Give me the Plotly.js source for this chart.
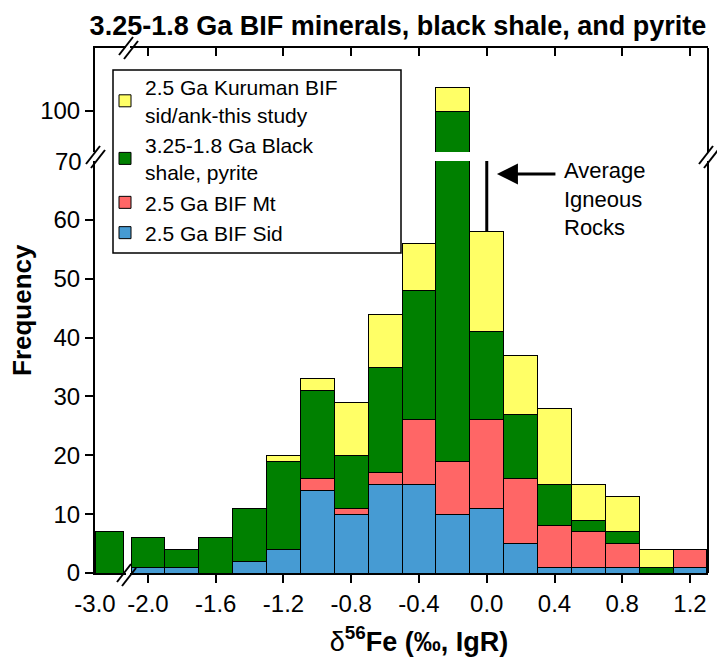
<!DOCTYPE html>
<html>
<head>
<meta charset="utf-8">
<script src="https://cdn.plot.ly/plotly-3.0.1.min.js"></script>
<style>html,body{margin:0;padding:0;background:#fff;}</style>
</head>
<body>
<div id="chart" style="width:717px;height:657px;"></div>
<script>
// ---- data (bin centres in per mil, counts per bin) ----
const bins = [-3.0, -2.0, -1.8, -1.6, -1.4, -1.2, -1.0, -0.8, -0.6, -0.4, -0.2, 0.0, 0.2, 0.4, 0.6, 0.8, 1.0, 1.2];
const bifSid   = [0, 1, 1, 0, 2, 4, 14, 10, 15, 15, 10, 11, 5, 1, 1, 1, 0, 1];
const bifMt    = [0, 0, 0, 0, 0, 0, 2, 1, 2, 11, 9, 15, 11, 7, 6, 4, 0, 3];
const shalePyr = [7, 5, 3, 6, 9, 15, 15, 9, 18, 22, 81, 15, 11, 7, 2, 2, 1, 0];
const kuruman  = [0, 0, 0, 0, 0, 1, 2, 9, 9, 8, 4, 17, 10, 13, 6, 6, 3, 0];
const seriesNames = ["2.5 Ga BIF Sid", "2.5 Ga BIF Mt", "3.25-1.8 Ga Black<br>shale, pyrite", "2.5 Ga Kuruman BIF<br>sid/ank-this study"];
const seriesColors = ["#469bd3", "#ff6666", "#008000", "#ffff66"];
const xTickVals = [-2.0, -1.6, -1.2, -0.8, -0.4, 0.0, 0.4, 0.8, 1.2];
const xTickText = ["-2.0", "-1.6", "-1.2", "-0.8", "-0.4", "0.0", "0.4", "0.8", "1.2"];
const yTickVals = [0, 10, 20, 30, 40, 50, 60];
const yUpperTickVals = [100];
const averageIgneous = 0.0;

const FONT = "Liberation Sans, Arial, Helvetica, sans-serif";
const seriesValues = [bifSid, bifMt, shalePyr, kuruman];
const subplots = [["x", "y"], ["x2", "y"], ["x3", "y2"], ["x4", "y2"]];

const traces = [];
subplots.forEach(function (sp, si) {
  seriesValues.forEach(function (vals, k) {
    traces.push({
      type: "bar",
      x: bins,
      y: vals.map(function (v) { return v === 0 ? null : v; }),
      width: 0.2,
      xaxis: sp[0], yaxis: sp[1],
      name: seriesNames[k],
      showlegend: si === 0,
      marker: { color: seriesColors[k], line: { color: "#000", width: 1 } },
      hoverinfo: "x+y+name"
    });
  });
});

// pixel helpers for decorations (plot area: left 95, right 708, top 48, bottom 573)
const L = 95, R = 708, T = 48, B = 573;
function px(x) { return (x - L) / (R - L); }
function py(y) { return (B - y) / (B - T); }

const axLine = { showline: true, linecolor: "#000", linewidth: 2, showgrid: false, zeroline: false };
const mainXDom = [px(130), 1];
const leftXDom = [0, px(126)];
const mainXRange = [-2.106, 1.306];
const leftXRange = [-3.1, -2.88];
const lowDom = [0, py(161)];
const upDom = [py(152), 1];

function brk(cx, cy) {
  return [
    { type: "line", xref: "paper", yref: "paper", x0: px(cx - 9), y0: py(cy + 7), x1: px(cx + 5), y1: py(cy - 11), line: { color: "#000", width: 2 } },
    { type: "line", xref: "paper", yref: "paper", x0: px(cx - 4), y0: py(cy + 11), x1: px(cx + 10), y1: py(cy - 7), line: { color: "#000", width: 2 } }
  ];
}

const shapes = [
  { type: "line", xref: "paper", yref: "paper", x0: 1, x1: 1, y0: lowDom[0], y1: lowDom[1], line: { color: "#000", width: 2 } },
  { type: "line", xref: "paper", yref: "paper", x0: 1, x1: 1, y0: upDom[0], y1: upDom[1], line: { color: "#000", width: 2 } },
  { type: "line", xref: "x", yref: "y", x0: averageIgneous, x1: averageIgneous, y0: 58, y1: 70, line: { color: "#000", width: 3 } },
  // legend frame
  { type: "rect", xref: "paper", yref: "paper", x0: px(113), x1: px(401), y0: py(253), y1: py(70), layer: "above",
    fillcolor: "#fff", line: { color: "#000", width: 1.5 } }
].concat(brk(L, 157), brk(R, 157), brk(126, 575), brk(128, 48));

const layout = {
  width: 717, height: 657,
  margin: { l: L, r: 717 - R, t: T, b: 657 - B, pad: 0 },
  paper_bgcolor: "#fff", plot_bgcolor: "#fff",
  font: { family: FONT, size: 24, color: "#000" },
  barmode: "stack", bargap: 0,
  title: { text: "<b>3.25-1.8 Ga BIF minerals, black shale, and pyrite</b>", font: { family: FONT, size: 27, color: "#000" },
           x: (398 - L) / (R - L), xref: "paper", xanchor: "center", y: 1 - 26 / 657, yref: "container", yanchor: "middle" },
  xaxis: Object.assign({ domain: mainXDom, range: mainXRange, anchor: "y", tickmode: "array", tickvals: xTickVals, ticktext: xTickText,
           ticks: "outside", ticklen: 8, tickwidth: 2, tickcolor: "#000", tickfont: { size: 24 },
           title: { text: "δ<sup><b>56</b></sup><b>Fe (‰, IgR)</b>", font: { size: 27 }, standoff: 16 } }, axLine),
  xaxis2: Object.assign({ domain: leftXDom, range: leftXRange, anchor: "y", tickmode: "array", tickvals: [-3.1], ticktext: ["-3.0"],
           ticks: "outside", ticklen: 8, tickwidth: 2, tickcolor: "rgba(0,0,0,0)", tickfont: { size: 24 } }, axLine),
  xaxis3: Object.assign({ domain: mainXDom, range: mainXRange, anchor: "y2", side: "top", tickmode: "array", tickvals: xTickVals,
           ticks: "inside", ticklen: 8, tickwidth: 2, tickcolor: "#000", showticklabels: false }, axLine),
  xaxis4: Object.assign({ domain: leftXDom, range: leftXRange, anchor: "y2", side: "top", ticks: "", showticklabels: false }, axLine),
  yaxis: Object.assign({ domain: lowDom, range: [0, 70], anchor: "x2", tickmode: "array", tickvals: yTickVals,
           ticks: "outside", ticklen: 8, tickwidth: 2, tickcolor: "#000", tickfont: { size: 24 } }, axLine),
  yaxis2: Object.assign({ domain: upDom, range: [93.05, 110.68], anchor: "x2", tickmode: "array", tickvals: yUpperTickVals,
           ticks: "outside", ticklen: 8, tickwidth: 2, tickcolor: "#000", tickfont: { size: 24 } }, axLine),
  legend: { x: px(105), y: py(67), xanchor: "left", yanchor: "top", bgcolor: "rgba(0,0,0,0)", borderwidth: 0,
            font: { family: FONT, size: 21, color: "#000" }, traceorder: "reversed", tracegroupgap: 0, itemclick: false },
  shapes: shapes,
  annotations: [
    { xref: "paper", x: 0, xshift: -11, yref: "y", y: 70, xanchor: "right", yanchor: "middle", text: "70", showarrow: false, font: { size: 24 } },
    { xref: "paper", x: 0, xshift: -73, yref: "paper", y: py(310), xanchor: "center", yanchor: "middle", textangle: -90,
      text: "<b>Frequency</b>", showarrow: false, font: { size: 26 } },
    { xref: "x", x: 0.06, yref: "y", y: 67.8, ax: 60, ay: 0, text: "", showarrow: true, arrowhead: 2, arrowsize: 1.4, arrowwidth: 3, arrowcolor: "#000" },
    { xref: "x", x: 0.444, yref: "y", y: 63.5, xanchor: "left", yanchor: "middle", align: "left", text: "Average<br>Igneous<br>Rocks",
      showarrow: false, font: { size: 22 } }
  ]
};

Plotly.newPlot("chart", traces, layout, { displayModeBar: false, staticPlot: true });
</script>
</body>
</html>
